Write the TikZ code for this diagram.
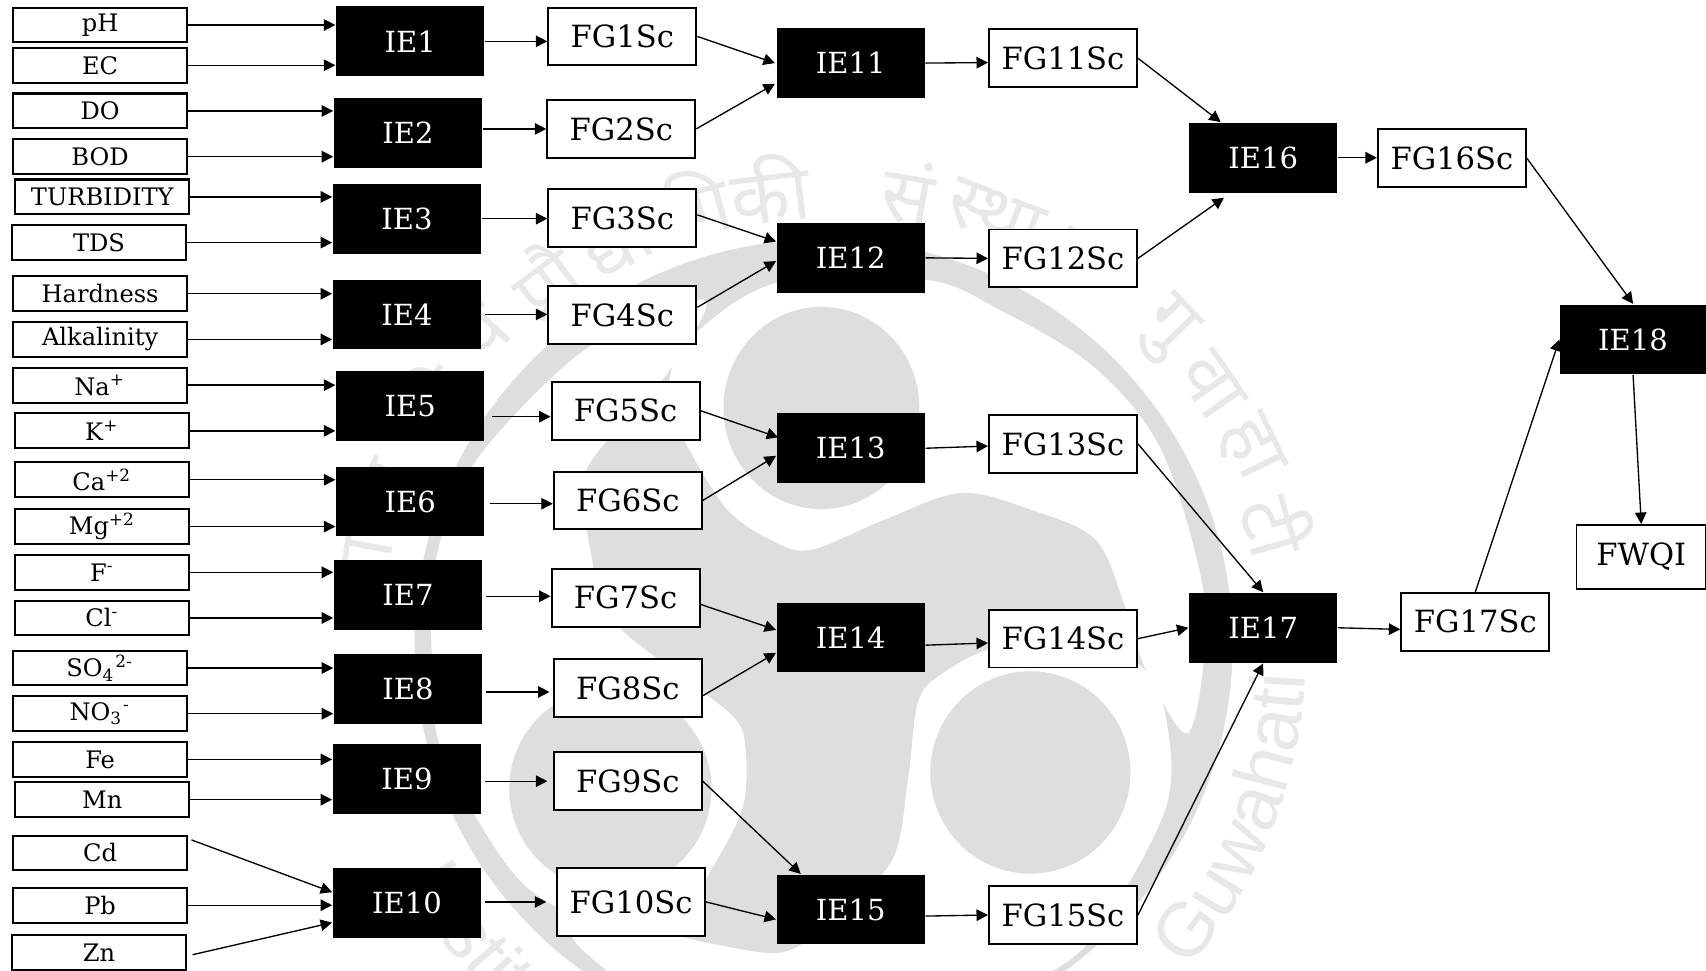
\documentclass[tikz,border=0pt]{standalone}
\usepackage{fontspec}
\usepackage{xcolor}
\usetikzlibrary{arrows.meta,calc,decorations.text}
\setmainfont{DejaVu Serif}
\newfontfamily\hindifont[Script=Devanagari]{Noto Sans}
\newfontfamily\markfont{Liberation Sans}
\definecolor{markgray}{HTML}{DEDEDE}
\definecolor{marktext}{HTML}{E8E8E8}

\begin{document}
\begin{tikzpicture}[x=0.01cm,y=-0.01cm,
    inbox/.style={draw,fill=white,line width=.55pt,inner sep=0pt,minimum width=1.6cm,minimum height=.32cm,font=\fontsize{6.3}{7}\selectfont},
    iebox/.style={fill=black,text=white,inner sep=0pt,minimum width=1.36cm,minimum height=.64cm,font=\fontsize{7.6}{9}\selectfont},
    fgbox/.style={draw,fill=white,line width=.5pt,inner sep=0pt,minimum width=1.36cm,minimum height=.53cm,font=\fontsize{8}{9}\selectfont},
    arr/.style={-{Triangle[length=3pt,width=3pt]},line width=.35pt},
    hinditext/.style={text=marktext,font=\hindifont\fontsize{20}{20}\selectfont}]
  \useasboundingbox (0,0) rectangle (1568,892);
  \coordinate (mark) at (760,602);

  % logo behind the diagram
  \begin{scope}
    \clip (0,0) rectangle (1568,892);
    \fill[markgray] (757,592) ellipse[x radius=376,y radius=372];
    \foreach \turn in {0,120,240}{
      \fill[white,rotate around={\turn:(755,603)}] plot[smooth cycle,tension=.55] coordinates {(1091,674) (1107,600) (1103,527) (1066,411) (1005,337) (919,285) (850,257) (714,260) (635,310) (616,346) (622,386) (635,416) (670,470) (714,499) (747,505) (812,478) (883,453) (949,469) (1007,496) (1034,557) (1053,615)};
    }
    \fill[markgray] (755,375) ellipse[x radius=90,y radius=93];
    \fill[markgray] (947,710) ellipse[x radius=92,y radius=93];
    \fill[markgray] (561,725) ellipse[x radius=93,y radius=93];
    \foreach \ang/\syl in {-80/भा,-68/र,-57/ती,-47/य,-37/प्रौ,-27/द्यो,-16/गि,-7/की,10/सं,21/स्था,32/न,46/गु,55/वा,64/हा,74/टी}{
      \node[hinditext,rotate=-\ang] (hi\ang) at ($(mark)+(\ang-90:432)$) {\syl};
    }
    \path[decorate,decoration={text along path,text color=marktext,text={|\markfont\fontsize{20}{22}\selectfont|Guwahati}}]
      ($(mark)+(41:440)$) arc[start angle=41,end angle=-10,radius=440];
    \path[decorate,decoration={text along path,text color=marktext,text={|\markfont\fontsize{20}{22}\selectfont|Institute}}]
      ($(mark)+(152:440)$) arc[start angle=152,end angle=105,radius=440];
  \end{scope}

  % water quality parameters
  \node[inbox] (pH) at (92,23) {pH};
  \node[inbox] (EC) at (92,60) {EC};
  \node[inbox] (DO) at (92,102) {DO};
  \node[inbox] (BOD) at (92,144) {BOD};
  \node[inbox] (turb) at (94,181) {TURBIDITY};
  \node[inbox] (TDS) at (91,223) {TDS};
  \node[inbox] (hard) at (92,270) {Hardness};
  \node[inbox] (alk) at (92,312) {Alkalinity};
  \node[inbox] (Na) at (92,354) {Na\textsuperscript{+}};
  \node[inbox] (K) at (94,396) {K\textsuperscript{+}};
  \node[inbox] (Ca) at (94,441) {Ca\textsuperscript{+2}};
  \node[inbox] (Mg) at (94,484) {Mg\textsuperscript{+2}};
  \node[inbox] (F) at (94,526) {F\textsuperscript{-}};
  \node[inbox] (Cl) at (94,568) {Cl\textsuperscript{-}};
  \node[inbox] (SO) at (92,614) {SO\textsubscript{4}\textsuperscript{2-}};
  \node[inbox] (NO) at (92,656) {NO\textsubscript{3}\textsuperscript{-}};
  \node[inbox] (Fe) at (92,698) {Fe};
  \node[inbox] (Mn) at (94,735) {Mn};
  \node[inbox] (Cd) at (92,784) {Cd};
  \node[inbox] (Pb) at (92,832) {Pb};
  \node[inbox] (Zn) at (91,875.5) {Zn};

  % inference engines
  \node[iebox] (IE1) at (377,38) {IE1};
  \node[iebox] (IE2) at (375,122) {IE2};
  \node[iebox] (IE3) at (374,201) {IE3};
  \node[iebox] (IE4) at (374,289) {IE4};
  \node[iebox] (IE5) at (377,373) {IE5};
  \node[iebox] (IE6) at (377,461) {IE6};
  \node[iebox] (IE7) at (375,547) {IE7};
  \node[iebox] (IE8) at (375,633) {IE8};
  \node[iebox] (IE9) at (374,716) {IE9};
  \node[iebox] (IE10) at (374,830) {IE10};
  \node[iebox] (IE11) at (782,58) {IE11};
  \node[iebox] (IE12) at (782,237) {IE12};
  \node[iebox] (IE13) at (782,412) {IE13};
  \node[iebox] (IE14) at (782,586) {IE14};
  \node[iebox] (IE15) at (782,836) {IE15};
  \node[iebox] (IE16) at (1161,145) {IE16};
  \node[iebox] (IE17) at (1161,577) {IE17};
  \node[iebox,minimum width=1.34cm] (IE18) at (1501,312) {IE18};

  % fuzzy scores
  \node[fgbox] (FG1) at (572,33.5) {FG1Sc};
  \node[fgbox] (FG2) at (571,118.5) {FG2Sc};
  \node[fgbox] (FG3) at (572,200.5) {FG3Sc};
  \node[fgbox] (FG4) at (572,289.5) {FG4Sc};
  \node[fgbox] (FG5) at (575,377.5) {FG5Sc};
  \node[fgbox] (FG6) at (577,460) {FG6Sc};
  \node[fgbox] (FG7) at (575,549.5) {FG7Sc};
  \node[fgbox] (FG8) at (577,632.5) {FG8Sc};
  \node[fgbox] (FG9) at (577,718) {FG9Sc};
  \node[fgbox,minimum height=.62cm] (FG10) at (580,829) {FG10Sc};
  \node[fgbox] (FG11) at (977,53.5) {FG11Sc};
  \node[fgbox] (FG12) at (977,237.5) {FG12Sc};
  \node[fgbox] (FG13) at (977,408) {FG13Sc};
  \node[fgbox] (FG14) at (977,587) {FG14Sc};
  \node[fgbox] (FG15) at (977,841) {FG15Sc};
  \node[fgbox] (FG16) at (1334.5,145.5) {FG16Sc};
  \node[fgbox] (FG17) at (1356,571.5) {FG17Sc};
  \node[fgbox,minimum width=1.19cm,minimum height=.59cm] (FWQI) at (1508.5,512) {FWQI};

  % parameters into the first engines
  \draw[arr] (pH.east) -- (pH.east -| IE1.west);
  \draw[arr] (EC.east) -- (EC.east -| IE1.west);
  \draw[arr] (DO.east) -- (DO.east -| IE2.west);
  \draw[arr] (BOD.east) -- (BOD.east -| IE2.west);
  \draw[arr] (turb.east) -- (turb.east -| IE3.west);
  \draw[arr] (TDS.east) -- (TDS.east -| IE3.west);
  \draw[arr] (hard.east) -- (hard.east -| IE4.west);
  \draw[arr] (alk.east) -- (alk.east -| IE4.west);
  \draw[arr] (Na.east) -- (Na.east -| IE5.west);
  \draw[arr] (K.east) -- (K.east -| IE5.west);
  \draw[arr] (Ca.east) -- (Ca.east -| IE6.west);
  \draw[arr] (Mg.east) -- (Mg.east -| IE6.west);
  \draw[arr] (F.east) -- (F.east -| IE7.west);
  \draw[arr] (Cl.east) -- (Cl.east -| IE7.west);
  \draw[arr] (SO.east) -- (SO.east -| IE8.west);
  \draw[arr] (NO.east) -- (NO.east -| IE8.west);
  \draw[arr] (Fe.east) -- (Fe.east -| IE9.west);
  \draw[arr] (Mn.east) -- (Mn.east -| IE9.west);
  \draw[arr] ($(Cd.east)+(3,-12)$) -- ($(IE10.west)+(0,-10)$);
  \draw[arr] (Pb.east) -- (Pb.east -| IE10.west);
  \draw[arr] ($(Zn.east)+(5,2)$) -- ($(IE10.west)+(0,18)$);

  % engines to their scores
  \draw[arr] (IE1.east) -- (IE1.east -| FG1.west);
  \draw[arr] (FG2.west -| IE2.east) -- (FG2.west);
  \draw[arr] (IE3.east) -- (IE3.east -| FG3.west);
  \draw[arr] ($(IE4.east)+(3,0)$) -- (IE4.east -| FG4.west);
  \draw[arr] ($(IE5.east)+(6,10)$) -- ($(FG5.west)+(0,5.5)$);
  \draw[arr] ($(IE6.east)+(5,2)$) -- ($(FG6.west)+(0,3)$);
  \draw[arr] ($(IE7.east)+(3,1)$) -- ($(FG7.west)+(0,-1.5)$);
  \draw[arr] ($(IE8.east)+(3,3)$) -- ($(FG8.west)+(-3,3.5)$);
  \draw[arr] ($(IE9.east)+(3,2)$) -- ($(FG9.west)+(-5,0)$);
  \draw[arr] ($(IE10.east)+(3,-1)$) -- ($(FG10.west)+(-9,0)$);
  \draw[arr] (IE11.east) -- ($(FG11.west)+(0,4)$);
  \draw[arr] (IE12.east) -- (FG12.west);
  \draw[arr] (IE13.east) -- ($(FG13.west)+(0,2)$);
  \draw[arr] ($(IE14.east)+(0,7)$) -- ($(FG14.west)+(0,4)$);
  \draw[arr] ($(IE15.east)+(0,6)$) -- (FG15.west);
  \draw[arr] (IE16.east) -- (IE16.east -| FG16.west);
  \draw[arr] (IE17.east) -- ($(FG17.west)+(0,7)$);

  % scores into the next engines
  \draw[arr] (FG1.east) -- ($(IE11.west)+(-1,0)$);
  \draw[arr] (FG2.east) -- ($(IE11.west)+(-1,19)$);
  \draw[arr] ($(FG3.east)+(0,-3)$) -- ($(IE12.west)+(0,-15)$);
  \draw[arr] ($(FG4.east)+(0,-7)$) -- ($(IE12.west)+(0,3)$);
  \draw[arr] (FG5.east) -- ($(IE13.west)+(2,-10)$);
  \draw[arr] (FG6.east) -- ($(IE13.west)+(0,7)$);
  \draw[arr] ($(FG7.east)+(0,6)$) -- ($(IE14.west)+(0,-7)$);
  \draw[arr] ($(FG8.east)+(0,7)$) -- ($(IE14.west)+(0,14)$);
  \draw[arr] (FG9.east) -- ($(IE15.north)+(-46,0)$);
  \draw[arr] (FG10.east) -- ($(IE15.west)+(0,9)$);
  \draw[arr] (FG11.east) -- ($(IE16.north)+(-39,0)$);
  \draw[arr] (FG12.east) -- ($(IE16.south)+(-36,4)$);
  \draw[arr] (FG13.east) -- (IE17.north);
  \draw[arr] (FG14.east) -- (IE17.west);
  \draw[arr] (FG15.east) -- (IE17.south);
  \draw[arr] (FG16.east) -- (IE18.north);
  \draw[arr] (FG17.north) -- (IE18.west);
  \draw[arr] (IE18.south) -- (FWQI.north);
\end{tikzpicture}
\end{document}
